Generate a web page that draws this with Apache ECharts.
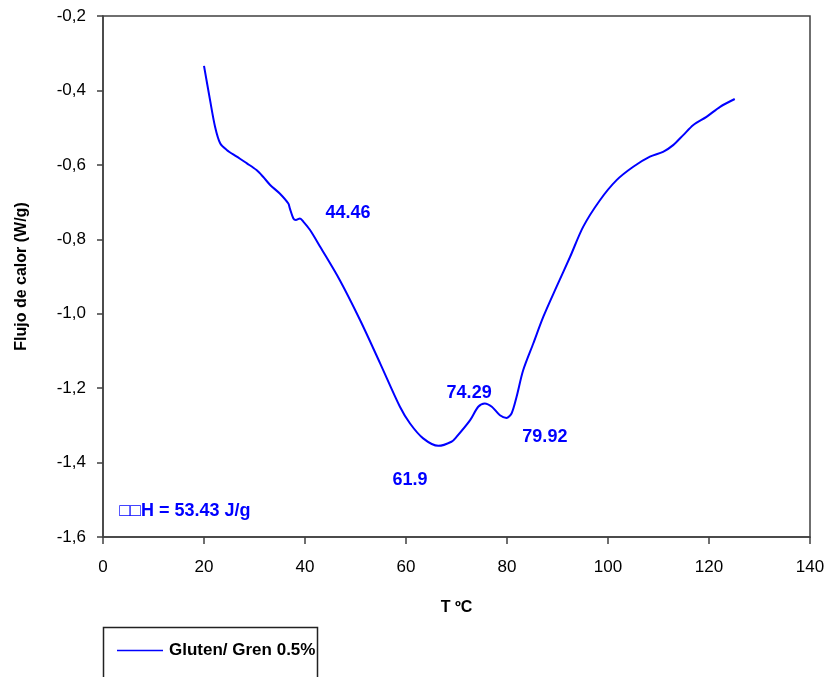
<!DOCTYPE html>
<html>
<head>
<meta charset="utf-8">
<script src="https://cdn.jsdelivr.net/npm/echarts@6/dist/echarts.min.js"></script>
<style>
  html, body { margin: 0; padding: 0; background: #fff; }
  #chart { width: 828px; height: 677px; }
</style>
</head>
<body>
<div id="chart"></div>
<script>
// DSC thermogram: heat flow vs temperature
const temperature = [20.0, 21.2, 22.2, 23.2, 24.5, 26.5, 28.5, 30.4, 31.7, 33.1, 35.0, 36.7, 37.0, 37.7, 38.2, 39.0, 39.7, 41.0, 43.0, 46.9, 50.9, 54.9, 58.8, 60.8, 63.4, 66.4, 69.0, 70.0, 72.7, 74.3, 75.6, 77.0, 78.6, 79.9, 80.9, 81.9, 83.2, 85.2, 87.2, 89.8, 92.5, 95.1, 98.4, 101.7, 105.0, 108.3, 110.9, 112.9, 114.9, 116.9, 119.5, 122.2, 125.1];
const heatFlow = [-0.334, -0.426, -0.498, -0.542, -0.560, -0.578, -0.596, -0.614, -0.632, -0.654, -0.677, -0.704, -0.717, -0.744, -0.748, -0.744, -0.753, -0.775, -0.820, -0.910, -1.017, -1.134, -1.250, -1.295, -1.335, -1.355, -1.344, -1.331, -1.286, -1.250, -1.241, -1.250, -1.273, -1.280, -1.268, -1.223, -1.152, -1.080, -1.008, -0.928, -0.847, -0.766, -0.695, -0.641, -0.605, -0.578, -0.565, -0.547, -0.520, -0.493, -0.471, -0.444, -0.423];

const seriesName = 'Gluten/ Gren 0.5%';
const xTitle = 'T ºC';
const yTitle = 'Flujo de calor (W/g)';

// annotation texts and their anchor points (temperature, heat flow)
const noteTexts = ['44.46', '74.29', '79.92', '61.9', '□□H = 53.43 J/g'];
const noteT = [48.5, 72.5, 87.5, 60.8, 3.2];
const noteY = [-0.730, -1.213, -1.332, -1.447, -1.531];

const axisColor = '#404040';
const blue = '#0000ff';
const font = 'Arial, "Liberation Sans", sans-serif';

const chart = echarts.init(document.getElementById('chart'), null, { renderer: 'canvas' });

const curve = temperature.map((t, i) => [t, heatFlow[i]]);
const notes = noteTexts.map((txt, i) => ({
  value: [noteT[i], noteY[i]],
  label: i === 4 ? { align: 'left' } : {}
}));

chart.setOption({
  animation: false,
  backgroundColor: '#fff',
  grid: {
    left: 103, right: 18, top: 16, bottom: 140,
    show: true, borderColor: axisColor, borderWidth: 1.5, backgroundColor: 'transparent'
  },
  xAxis: {
    type: 'value', min: 0, max: 140, interval: 20,
    name: xTitle, nameLocation: 'middle', nameGap: 63,
    nameTextStyle: { fontFamily: font, fontSize: 16, fontWeight: 'bold', color: '#000' },
    axisLine: { show: true, lineStyle: { color: axisColor, width: 1.5 } },
    axisTick: { show: true, inside: false, length: 7, lineStyle: { color: axisColor, width: 1.5 } },
    axisLabel: { fontFamily: font, fontSize: 17, color: '#000', margin: 22 },
    splitLine: { show: false }
  },
  yAxis: {
    type: 'value', min: -1.6, max: -0.2, interval: 0.2,
    name: yTitle, nameLocation: 'middle', nameGap: 73, nameRotate: 90,
    nameTextStyle: { fontFamily: font, fontSize: 16, fontWeight: 'bold', color: '#000' },
    axisLine: { show: true, lineStyle: { color: axisColor, width: 1.5 } },
    axisTick: { show: true, inside: false, length: 6, lineStyle: { color: axisColor, width: 1.5 } },
    axisLabel: {
      fontFamily: font, fontSize: 17, color: '#000', margin: 17,
      formatter: v => v.toFixed(1).replace('.', ',')
    },
    splitLine: { show: false }
  },
  legend: {
    show: true,
    left: 117, top: 642,
    icon: 'rect',
    itemWidth: 46, itemHeight: 1.5, itemGap: 10,
    padding: 0,
    textStyle: { fontFamily: font, fontSize: 17, fontWeight: 'bold', color: '#000', padding: [0, 0, 0, 1] },
    data: [seriesName]
  },
  graphic: [{
    type: 'rect',
    shape: { x: 103.5, y: 627.5, width: 214, height: 60 },
    style: { fill: 'none', stroke: '#222', lineWidth: 1.5 },
    z: 100
  }],
  series: [{
    name: seriesName,
    type: 'line',
    data: curve,
    smooth: 0.3,
    showSymbol: false,
    symbol: 'none',
    lineStyle: { color: blue, width: 2 },
    itemStyle: { color: blue }
  }, {
    name: 'notes',
    type: 'scatter',
    data: notes,
    symbolSize: 0,
    silent: true,
    itemStyle: { opacity: 1, color: blue },
    label: {
      show: true, position: 'inside',
      fontFamily: font, fontSize: 18, fontWeight: 'bold', color: blue,
      formatter: p => noteTexts[p.dataIndex]
    }
  }]
});
</script>
</body>
</html>
